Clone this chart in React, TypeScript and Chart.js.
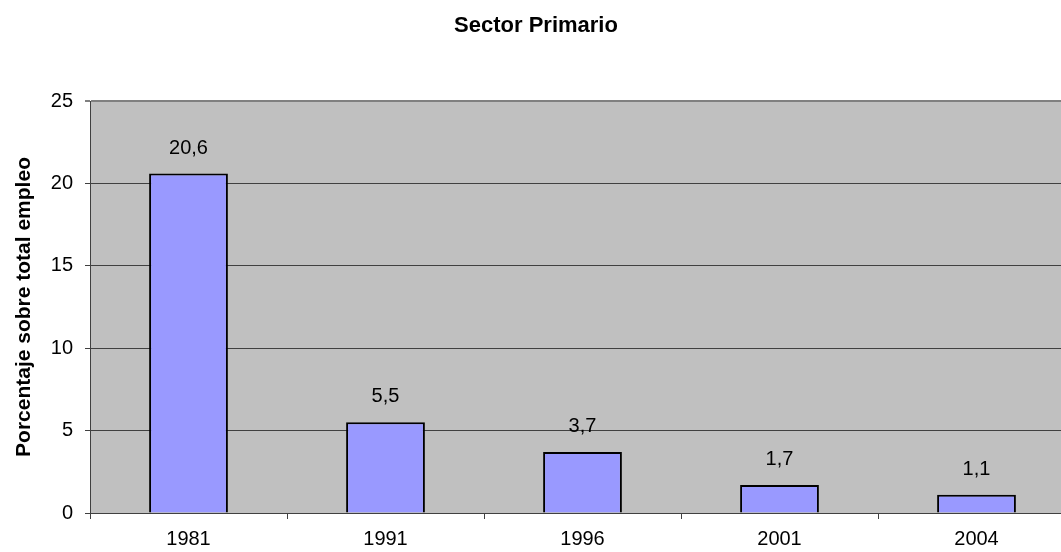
import React, { useEffect, useRef } from "react";
import { Chart, registerables } from "chart.js";

Chart.register(...registerables);

const categories = ["1981", "1991", "1996", "2001", "2004"];
const values = [20.6, 5.5, 3.7, 1.7, 1.1];
const yTicks = [0, 5, 10, 15, 20, 25];
const chartTitle = "Sector Primario";
const yAxisTitle = "Porcentaje sobre total empleo";

const FONT = "'Liberation Sans', Arial, sans-serif";

const decorPlugin = {
  id: "decor",
  beforeDraw(chart: any) {
    const { ctx, chartArea } = chart;
    ctx.save();
    ctx.fillStyle = "#C0C0C0";
    ctx.fillRect(chartArea.left, chartArea.top, chartArea.right - chartArea.left, chartArea.bottom - chartArea.top);
    ctx.restore();
  },
  afterDraw(chart: any) {
    const { ctx } = chart;
    ctx.save();
    ctx.fillStyle = "#000";
    ctx.font = `bold 22px ${FONT}`;
    ctx.textAlign = "center";
    ctx.textBaseline = "middle";
    ctx.fillText(chartTitle, 536, 26);
    ctx.font = `20px ${FONT}`;
    ctx.textBaseline = "alphabetic";
    const meta = chart.getDatasetMeta(0);
    meta.data.forEach((el: any, i: number) => {
      const txt = values[i].toFixed(1).replace(".", ",");
      ctx.fillText(txt, el.x, el.y - 20);
    });
    ctx.restore();
  },
};

export default function App() {
  const ref = useRef<HTMLCanvasElement | null>(null);
  useEffect(() => {
    if (!ref.current) return;
    const chart = new Chart(ref.current, {
      type: "bar",
      data: {
        labels: categories,
        datasets: [
          {
            data: values,
            backgroundColor: "#9999FF",
            borderColor: "#000000",
            borderWidth: 2,
            categoryPercentage: 1,
            barPercentage: 0.4,
          },
        ],
      },
      plugins: [decorPlugin],
      options: {
        animation: false,
        responsive: false,
        maintainAspectRatio: false,
        layout: { padding: { top: 101, right: 25, left: 0, bottom: 0 } },
        plugins: { legend: { display: false }, tooltip: { enabled: false }, title: { display: false } },
        scales: {
          x: {
            type: "category",
            offset: true,
            grid: { offset: true, drawOnChartArea: false, drawTicks: true, tickLength: 6, color: "#404040" },
            border: { color: "#404040", width: 1 },
            ticks: { color: "#000", font: { family: FONT, size: 20 }, padding: 8 },
            afterFit(scale: any) {
              scale.height = 39;
            },
          },
          y: {
            min: 0,
            max: 25,
            afterBuildTicks(scale: any) {
              scale.ticks = yTicks.map((v) => ({ value: v }));
            },
            grid: {
              color: (c: any) => (c.tick && c.tick.value === 25 ? "#808080" : "#404040"),
              lineWidth: (c: any) => (c.tick && c.tick.value === 25 ? 2 : 1),
              tickLength: 5,
            },
            border: { color: "#404040", width: 1 },
            ticks: { color: "#000", font: { family: FONT, size: 20 }, padding: 12 },
            title: {
              display: true,
              text: yAxisTitle,
              color: "#000",
              font: { family: FONT, size: 21, weight: "bold" },
              padding: { top: 12, bottom: 0 },
            },
            afterFit(scale: any) {
              scale.width = 90;
            },
          },
        },
      },
    } as any);
    return () => chart.destroy();
  }, []);
  return (
    <div style={{ position: "fixed", left: 0, top: 0, width: 1100, height: 552, background: "#fff" }}>
      <canvas ref={ref} width={1100} height={552} style={{ width: 1100, height: 552 }} />
    </div>
  );
}
